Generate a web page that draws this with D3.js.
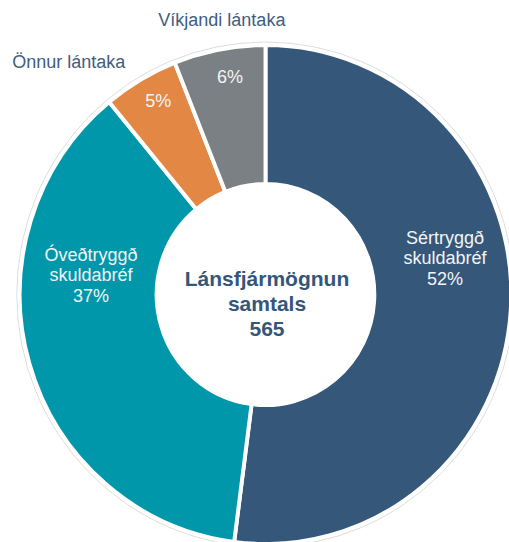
<!DOCTYPE html>
<html>
<head>
<meta charset="utf-8">
<script src="https://cdn.jsdelivr.net/npm/d3@7"></script>
<style>
  body { margin: 0; background: #fff; }
  svg { display: block; font-family: "Liberation Sans", Arial, sans-serif; }
</style>
</head>
<body>
<svg id="donut" width="509" height="542"></svg>
<script>
// data
const categories = ["Sértryggð skuldabréf", "Óveðtryggð skuldabréf", "Önnur lántaka", "Víkjandi lántaka"];
const amounts = [294, 209, 28, 34];
const centerTitle = ["Lánsfjármögnun", "samtals"];

const colors = ["#34577a", "#0097ab", "#e28744", "#7a8084"];

// where the labels go: radius and a shift (degrees) from the slice middle
const insideLabel = [
	{ r: 182, shift: -13.3, lines: ["Sértryggð", "skuldabréf"] },
	{ r: 175, shift: 20.5, lines: ["Óveðtryggð", "skuldabréf"] },
	{ r: 216, shift: 0.8, lines: [] },
	{ r: 214.5, shift: 1.3, lines: [] }
];
const outsideLabel = [null, null, { r: 300, shift: -10.4 }, { r: 272, shift: 1.6 }];

const svg = d3.select("#donut");
const cx = 265.5, cy = 294.5;
const outerR = 249.5, innerR = 110.5;

const total = d3.sum(amounts);
const pct = d3.format(".0%");

const pie = d3.pie().sort(null).value(function(d) { return d.value; });
const arcs = pie(categories.map(function(c, i) { return { name: c, value: amounts[i], i: i }; }));

const arc = d3.arc().innerRadius(innerR).outerRadius(outerR);

const g = svg.append("g").attr("transform", "translate(" + cx + "," + cy + ") scale(0.985,1)");

// faint outline around the ring
g.append("circle").attr("r", outerR + 3).attr("fill", "none")
	.attr("stroke", "#dcdcdc").attr("stroke-width", 1);
g.append("circle").attr("r", innerR - 0.5).attr("fill", "none")
	.attr("stroke", "#e2e2e2").attr("stroke-width", 1);

g.selectAll("path.slice")
	.data(arcs)
	.enter().append("path")
	.attr("class", "slice")
	.attr("d", arc)
	.attr("fill", function(d) { return colors[d.data.i]; })
	.attr("stroke", "#fff")
	.attr("stroke-width", 4)
	.attr("stroke-linejoin", "miter");

function polar(a, r) {
	return [cx + r * Math.sin(a), cy - r * Math.cos(a)];
}
const rad = Math.PI / 180;

// labels inside the slices
const lineH = 20.5;
arcs.forEach(function(d) {
	const L = insideLabel[d.data.i];
	const mid = (d.startAngle + d.endAngle) / 2 + L.shift * rad;
	const p = polar(mid, L.r);
	const lines = L.lines.concat([pct(d.value / total)]);
	const t = svg.append("text")
		.attr("text-anchor", "middle")
		.attr("fill", "#f4f4f4")
		.attr("font-size", 18);
	const off = (lines.length - 1) / 2;
	lines.forEach(function(s, k) {
		t.append("tspan")
			.attr("x", p[0])
			.attr("y", p[1] + (k - off) * lineH)
			.text(s);
	});

	const O = outsideLabel[d.data.i];
	if (O) {
		const q = polar((d.startAngle + d.endAngle) / 2 + O.shift * rad, O.r);
		svg.append("text")
			.attr("x", q[0]).attr("y", q[1])
			.attr("text-anchor", "middle")
			.attr("fill", "#3f5d7f")
			.attr("font-size", 18)
			.text(d.data.name);
	}
});

// centre text
const ct = svg.append("text")
	.attr("text-anchor", "middle")
	.attr("fill", "#34567a")
	.attr("font-weight", "bold")
	.attr("font-size", 21);
centerTitle.concat([String(total)]).forEach(function(s, k) {
	ct.append("tspan")
		.attr("x", cx + 1.5)
		.attr("y", cy + 16 + (k - 1) * 25)
		.text(s);
});
</script>
</body>
</html>
